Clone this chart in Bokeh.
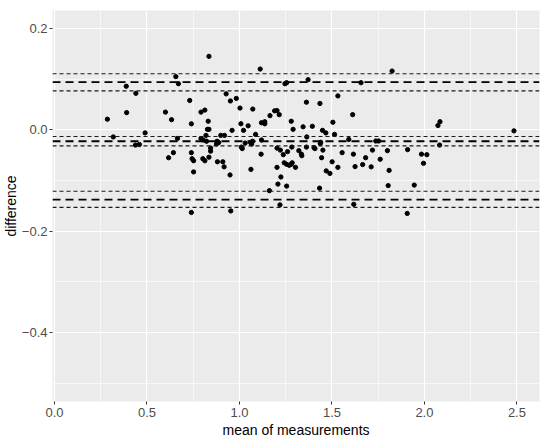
from bokeh.plotting import figure
from bokeh.models import Span, FixedTicker, Title
from bokeh.embed import file_html
from bokeh.resources import INLINE

# mean of measurements (x) and difference (y)
mean_meas = [0.286, 0.318, 0.388, 0.390, 0.440, 0.438, 0.459, 0.490, 0.600, 0.633,
             0.656, 0.670, 0.665, 0.617, 0.643, 0.731, 0.740, 0.740, 0.744, 0.752,
             0.752, 0.740, 0.792, 0.792, 0.802, 0.813, 0.835, 0.831, 0.827, 0.835,
             0.804, 0.819, 0.822, 0.813, 0.835, 0.844, 0.844, 0.879, 0.888, 0.876,
             0.899, 0.919, 0.881, 0.910, 0.917, 0.928, 0.951, 0.960, 0.949, 0.953,
             0.983, 1.003, 1.008, 1.022, 1.010, 1.015, 1.031, 1.047, 1.060, 1.071,
             1.066, 1.062, 1.072, 1.087, 1.112, 1.117, 1.119, 1.119, 1.137, 1.137,
             1.162, 1.165, 1.190, 1.203, 1.215, 1.203, 1.221, 1.203, 1.208, 1.224,
             1.219, 1.237, 1.242, 1.255, 1.269, 1.285, 1.280, 1.246, 1.255, 1.255,
             1.260, 1.283, 1.280, 1.290, 1.303, 1.321, 1.335, 1.337, 1.344, 1.362,
             1.362, 1.364, 1.371, 1.394, 1.403, 1.408, 1.435, 1.433, 1.439, 1.437,
             1.444, 1.449, 1.451, 1.467, 1.469, 1.489, 1.501, 1.505, 1.514, 1.532,
             1.532, 1.555, 1.591, 1.612, 1.616, 1.618, 1.625, 1.657, 1.666, 1.682,
             1.712, 1.719, 1.737, 1.752, 1.761, 1.800, 1.804, 1.809, 1.825, 1.907,
             1.909, 1.945, 1.984, 1.995, 2.013, 2.073, 2.084, 2.082, 2.484]
difference = [0.021, -0.014, 0.086, 0.034, 0.072, -0.030, -0.029, -0.006, 0.035, 0.020,
              0.105, 0.091, -0.017, -0.055, -0.045, 0.058, 0.012, -0.045, -0.057, -0.061,
              -0.083, -0.163, 0.035, -0.017, -0.057, 0.039, 0.145, 0.017, 0.001, 0.001,
              -0.020, -0.011, -0.0225, -0.061, -0.054, -0.036, -0.042, -0.0225, -0.025, -0.028,
              -0.011, -0.011, -0.063, -0.063, -0.073, 0.071, 0.057, -0.001, -0.089, -0.160,
              0.062, 0.043, 0.012, -0.001, -0.034, -0.037, -0.026, 0.008, -0.025, -0.0225,
              -0.028, -0.078, 0.041, -0.009, 0.120, -0.048, -0.020, 0.014, 0.016, 0.012,
              -0.120, 0.028, 0.0375, 0.038, 0.030, -0.036, -0.040, -0.074, -0.107, -0.093,
              -0.148, -0.049, -0.065, -0.068, -0.070, -0.065, -0.068, 0.091, 0.093, -0.111,
              -0.043, -0.034, 0.017, 0.001, -0.074, -0.041, -0.048, -0.051, 0.006, 0.0545,
              -0.034, -0.014, 0.099, 0.007, -0.035, -0.037, 0.052, -0.115, -0.0245, -0.027,
              -0.055, -0.001, -0.040, -0.006, -0.081, -0.086, -0.063, 0.015, -0.009, 0.067,
              -0.074, -0.045, -0.019, 0.030, -0.048, -0.147, -0.0725, 0.093, -0.0685, -0.055,
              -0.073, -0.040, -0.022, -0.022, -0.058, -0.041, -0.110, -0.080, 0.116, -0.165,
              -0.039, -0.109, -0.048, -0.066, -0.049, 0.0085, 0.016, -0.030, -0.002]

# bias and limits of agreement (main lines) with their confidence limits
main_lines = [0.094, -0.0225, -0.1376]
ci_lines = [0.1106, 0.077, -0.0132, -0.0316, -0.121, -0.153]

x_ticks = [0.0, 0.5, 1.0, 1.5, 2.0, 2.5]
x_minor = [0.25, 0.75, 1.25, 1.75, 2.25]
y_ticks = [0.2, 0.0, -0.2, -0.4]
y_minor = [0.1, -0.1, -0.3, -0.5]

x_title = "mean of measurements"
y_title = "difference"

FONT = "Liberation Sans"

p = figure(width=550, height=438, output_backend="svg", toolbar_location=None,
           x_range=(-0.0107, 2.622), y_range=(-0.536, 0.2355),
           min_border_left=48, min_border_right=11, min_border_top=10, min_border_bottom=37)

p.background_fill_color = "#EBEBEB"
p.border_fill_color = "white"
p.outline_line_color = None

p.xaxis.ticker = FixedTicker(ticks=x_ticks, minor_ticks=x_minor)
p.yaxis.ticker = FixedTicker(ticks=y_ticks, minor_ticks=y_minor)
p.xaxis.major_label_overrides = {t: f"{t:.1f}".replace("-", "\u2212") for t in x_ticks}
p.yaxis.major_label_overrides = {t: f"{t:.1f}".replace("-", "\u2212") for t in y_ticks}

for ax in (p.xaxis, p.yaxis):
    ax.axis_line_color = None
    ax.major_tick_line_color = "#333333"
    ax.major_tick_out = 3
    ax.major_tick_in = 0
    ax.minor_tick_line_color = None
    ax.major_label_text_font = FONT
    ax.major_label_text_font_size = "13px"
    ax.major_label_text_color = "#4D4D4D"
    ax.major_label_standoff = 2
p.yaxis.major_label_standoff = 1

p.grid.grid_line_color = "white"
p.grid.grid_line_width = 1.2
p.grid.minor_grid_line_color = "white"
p.grid.minor_grid_line_width = 0.6

for v in ci_lines:
    p.add_layout(Span(location=v, dimension="width", line_color="#1a1a1a",
                      line_width=1.1, line_dash="4 3"))
for v in main_lines:
    p.add_layout(Span(location=v, dimension="width", line_color="black",
                      line_width=1.8, line_dash="8 5"))

p.scatter(mean_meas, difference, size=4.3, color="black")

p.add_layout(Title(text=x_title, align="center", text_font=FONT, text_font_size="14px",
                   text_font_style="normal", text_color="black", standoff=0, offset=0), "below")
p.add_layout(Title(text=y_title, align="center", text_font=FONT, text_font_size="14px",
                   text_font_style="normal", text_color="black", standoff=0, offset=0), "left")

open("out.html", "w").write(file_html(p, INLINE))
